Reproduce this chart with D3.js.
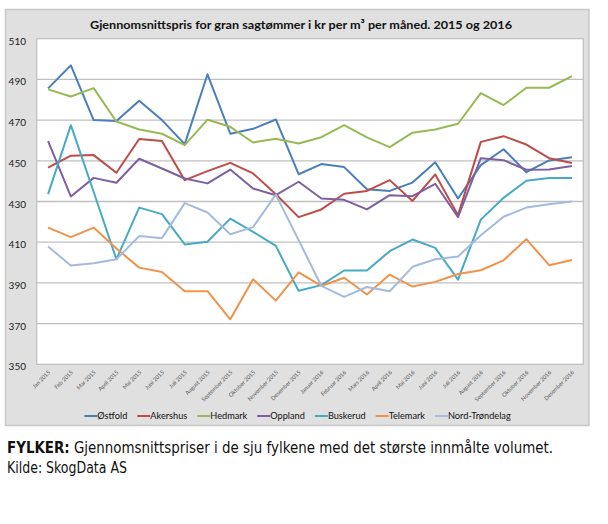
<!DOCTYPE html>
<html>
<head>
<meta charset="utf-8">
<script src="https://cdn.jsdelivr.net/npm/d3@7"></script>
<style>
  html, body { margin: 0; padding: 0; background: #ffffff; }
  svg { display: block; }
</style>
</head>
<body>
<svg id="chart" width="608" height="524"></svg>
<script>
const months = ["Jan 2015","Feb 2015","Mar 2015","April 2015","Mai 2015","Juni 2015","Juli 2015","August 2015","September 2015","Oktober 2015","November 2015","Desember 2015","Januar 2016","Februar 2016","Mars 2016","April 2016","Mai 2016","Juni 2016","Juli 2016","August 2016","September 2016","Oktober 2016","November 2016","Desember 2016"];

const ostfold   = [485.6,496.9,470.0,469.5,479.5,470.0,458.2,492.5,463.3,465.7,470.3,443.4,448.4,446.9,436.0,435.2,439.3,449.3,431.5,447.9,455.7,444.4,450.2,451.8];
const akershus  = [446.6,452.5,452.8,444.1,460.7,459.7,440.5,444.9,449.0,443.8,433.6,422.3,426.1,433.8,435.2,440.5,430.3,443.3,423.3,459.3,462.1,458.0,451.3,448.9];
const hedmark   = [485.1,481.6,485.7,469.3,465.4,463.3,457.7,470.2,466.7,459.0,460.8,458.5,461.6,467.5,461.5,456.7,463.8,465.4,468.2,483.3,477.4,485.9,485.9,491.6];
const oppland   = [459.7,432.5,441.6,439.2,451.0,446.2,441.3,438.9,445.7,436.4,433.1,439.7,431.5,430.8,426.1,433.1,432.6,438.7,422.3,451.3,450.3,445.6,445.7,447.5];
const buskerud  = [433.6,467.5,434.8,401.6,427.0,423.8,408.9,410.2,421.6,415.1,408.2,386.1,388.9,396.1,396.1,405.6,411.3,407.2,391.6,421.1,431.8,440.2,441.5,441.5];
const telemark  = [417.2,412.5,417.2,406.9,397.5,395.4,385.9,385.9,372.1,391.8,381.3,395.2,388.5,392.5,384.3,394.1,388.2,390.5,394.4,396.2,401.1,411.5,398.7,401.3];
const trondelag = [407.9,398.5,399.7,401.6,413.0,412.0,429.2,424.6,413.9,417.4,433.4,411.0,388.5,383.1,388.0,385.9,397.9,401.6,403.0,413.4,422.5,427.0,428.7,430.0];

const seriesNames = ["Østfold","Akershus","Hedmark","Oppland","Buskerud","Telemark","Nord-Trøndelag"];
const seriesValues = [ostfold, akershus, hedmark, oppland, buskerud, telemark, trondelag];
const seriesColors = ["#4a7ebb","#be4b48","#98b954","#7d60a0","#46aac5","#f0934a","#a3bbdc"];

const yTicks = [350,370,390,410,430,450,470,490,510];

const title = "Gjennomsnittspris for gran sagtømmer i kr per m³ per måned. 2015 og 2016";
const captionBold = "FYLKER:";
const captionText = " Gjennomsnittspriser i de sju fylkene med det største innmålte volumet.";
const sourceText = "Kilde: SkogData AS";

const svg = d3.select("#chart");
const font = "Lato, 'Open Sans', 'DejaVu Sans', sans-serif";

// panel
svg.append("rect")
  .attr("x", 5.5).attr("y", 9.5).attr("width", 583.5).attr("height", 416)
  .attr("fill", "#e0e0e0").attr("stroke", "#c8c8c8").attr("stroke-width", 1.5);

const plot = {left: 36.7, right: 583.3, top: 38.7, bottom: 364.3};

const x = d3.scalePoint().domain(months).range([plot.left, plot.right]).padding(0.5);
const y = d3.scaleLinear().domain([350, 510]).range([plot.bottom, plot.top]);

// plot area
svg.append("rect")
  .attr("x", plot.left).attr("y", plot.top)
  .attr("width", plot.right - plot.left).attr("height", plot.bottom - plot.top)
  .attr("fill", "#ffffff").attr("stroke", "#bdbdbd").attr("stroke-width", 1.2);

// gridlines
svg.append("g").selectAll("line")
  .data(yTicks.filter(t => t > 350 && t < 510))
  .join("line")
  .attr("x1", plot.left).attr("x2", plot.right)
  .attr("y1", d => y(d)).attr("y2", d => y(d))
  .attr("stroke", "#c0c0c0").attr("stroke-width", 1.3);

// y axis
const yAxis = d3.axisLeft(y).tickValues(yTicks).tickSize(0).tickPadding(0).tickFormat(d3.format("d"));
const yg = svg.append("g").attr("transform", `translate(26,0)`).call(yAxis);
yg.select(".domain").remove();
yg.selectAll("text")
  .attr("font-family", font).attr("font-size", "10px").attr("fill", "#1a1a1a")
  .attr("dy", "0.55em");

// x axis labels
const xAxis = d3.axisBottom(x).tickSize(0).tickPadding(0);
const xg = svg.append("g").attr("transform", `translate(0,${plot.bottom})`).call(xAxis);
xg.select(".domain").remove();
xg.selectAll(".tick text")
  .attr("font-family", font).attr("font-size", "5.6px").attr("fill", "#555555")
  .attr("text-anchor", "end")
  .attr("dy", 0).attr("y", 0)
  .attr("transform", "translate(2,8.5) rotate(-45)");

// lines
const line = d3.line().x((d, i) => x(months[i])).y(d => y(d));
svg.append("g").selectAll("path")
  .data(seriesValues)
  .join("path")
  .attr("d", d => line(d))
  .attr("fill", "none")
  .attr("stroke", (d, i) => seriesColors[i])
  .attr("stroke-width", 2)
  .attr("stroke-linejoin", "round");

// title
svg.append("text")
  .attr("x", 301).attr("y", 29)
  .attr("text-anchor", "middle")
  .attr("font-family", font).attr("font-weight", "bold").attr("font-size", "12px")
  .attr("fill", "#111")
  .attr("textLength", 422).attr("lengthAdjust", "spacingAndGlyphs")
  .text(title);

// legend
const legend = svg.append("g");
const legendY = 416;
let cx = 0;
const items = [];
seriesNames.forEach((name, i) => {
  const g = legend.append("g");
  g.append("line").attr("x1", 0).attr("x2", 13).attr("y1", legendY).attr("y2", legendY)
    .attr("stroke", seriesColors[i]).attr("stroke-width", 2);
  const t = g.append("text").attr("x", 13).attr("y", legendY + 3.3)
    .attr("font-family", font).attr("font-size", "9.2px").attr("fill", "#111").text(name);
  const w = 13 + t.node().getComputedTextLength();
  g.attr("transform", `translate(${cx},0)`);
  cx += w + 10;
});
const totalW = cx - 10;
legend.attr("transform", `translate(${297.5 - totalW / 2},0)`);

// caption
const cap = svg.append("text")
  .attr("x", 7).attr("y", 453)
  .attr("font-family", "'DejaVu Sans Condensed', 'Liberation Sans Narrow', 'Open Sans', sans-serif")
  .attr("font-size", "15px").attr("fill", "#111")
  .attr("textLength", 546).attr("lengthAdjust", "spacingAndGlyphs");
cap.append("tspan").attr("font-weight", "bold").text(captionBold);
cap.append("tspan").text(captionText);

svg.append("text")
  .attr("x", 7).attr("y", 472.5)
  .attr("font-family", "'DejaVu Sans Condensed', 'Liberation Sans Narrow', 'Open Sans', sans-serif")
  .attr("font-size", "15px").attr("fill", "#111")
  .attr("textLength", 120).attr("lengthAdjust", "spacingAndGlyphs")
  .text(sourceText);
</script>
</body>
</html>
